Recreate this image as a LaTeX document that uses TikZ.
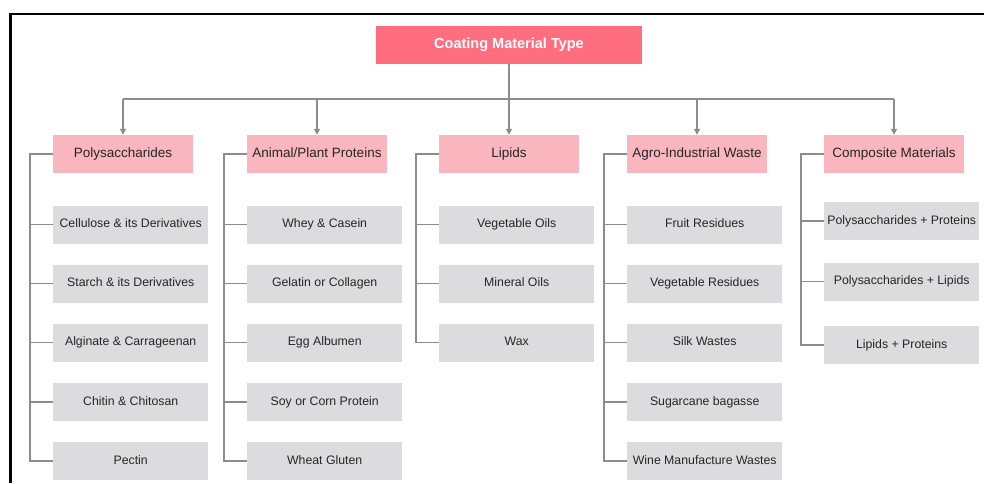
\documentclass[tikz,border=0pt]{standalone}
\usepackage{fontspec}
\setmainfont{Liberation Sans}
\usepackage{tikz}
\usepackage{xcolor}
\usetikzlibrary{arrows.meta}
\definecolor{rootred}{HTML}{FF6E7F}
\definecolor{catpink}{HTML}{F9B6BF}
\definecolor{itemgray}{HTML}{DCDCDE}
\definecolor{linegray}{HTML}{8C8C8C}
\tikzset{
root/.style={
  rectangle,fill=rootred,text=white,
  minimum width=266pt,minimum height=38pt,inner sep=0pt,
  text height=10.5pt,text depth=3pt,
  font=\fontsize{14.5}{16}\selectfont\bfseries
},
category/.style={
  rectangle,fill=catpink,text=black!85,
  minimum width=140pt,minimum height=38pt,inner sep=0pt,
  text height=9.8pt,text depth=2.8pt,
  font=\fontsize{13.5}{15}\selectfont
},
item/.style={
  rectangle,fill=itemgray,text=black!85,anchor=west,
  minimum width=155pt,minimum height=38pt,inner sep=0pt,
  text height=9pt,text depth=2.6pt,
  font=\fontsize{12.3}{14}\selectfont
},
link/.style={draw=linegray,line width=1.4pt},
}
\begin{document}
\begin{tikzpicture}[x=1pt,y=-1pt]
\useasboundingbox (0,0) rectangle (984,483);
% the frame
\draw[line width=2.4pt] (10.5,483) -- (10.5,14) -- (984,14);
% the root and the categories
\node[root] (root) at (509,45) {Coating Material Type};
\node[category] (cat-1) at (123,154) {Polysaccharides};
\node[category] (cat-2) at (317,154) {Animal/Plant Proteins};
\node[category] (cat-3) at (509,154) {Lipids};
\node[category] (cat-4) at (697,154) {Agro-Industrial Waste};
\node[category] (cat-5) at (894,154) {Composite Materials};
% the items
\foreach \j/\t in {1/Cellulose \& its Derivatives,2/Starch \& its Derivatives,3/Alginate \& Carrageenan,4/Chitin \& Chitosan,5/Pectin}
  \node[item] (item-1-\j) at (53,{224.5+59.1*(\j-1)}) {\t};
\foreach \j/\t in {1/Whey \& Casein,2/Gelatin or Collagen,3/Egg Albumen,4/Soy or Corn Protein,5/Wheat Gluten}
  \node[item] (item-2-\j) at (247,{224.5+59.1*(\j-1)}) {\t};
\foreach \j/\t in {1/Vegetable Oils,2/Mineral Oils,3/Wax}
  \node[item] (item-3-\j) at (439,{224.5+59.1*(\j-1)}) {\t};
\foreach \j/\t in {1/Fruit Residues,2/Vegetable Residues,3/Silk Wastes,4/Sugarcane bagasse,5/Wine Manufacture Wastes}
  \node[item] (item-4-\j) at (627,{224.5+59.1*(\j-1)}) {\t};
\foreach \j/\y/\t in {1/221/Polysaccharides + Proteins,2/281.5/Polysaccharides + Lipids,3/345/Lipids + Proteins}
  \node[item] (item-5-\j) at (824,\y) {\t};
% the arrows
\coordinate (bus) at (509,99);
\draw[link] (root.south) -- (bus);
\draw[link] (cat-1.north |- bus) -- (cat-5.north |- bus);
\foreach \i in {1,...,5}
{
  \draw[link,-{Triangle[length=6pt,width=6pt]}] (cat-\i.north |- bus) -- (cat-\i.north);
}
% the trunks
\foreach \i/\n in {1/5,2/5,3/3,4/5,5/3}
{
  \coordinate (trunk-\i) at ([xshift=-23pt]cat-\i.west);
  \draw[link] (cat-\i.west) -- (trunk-\i) |- (item-\i-\n.west);
  \foreach \j in {1,...,\n}
    \draw[link] (trunk-\i |- item-\i-\j.west) -- (item-\i-\j.west);
}
\end{tikzpicture}
\end{document}
